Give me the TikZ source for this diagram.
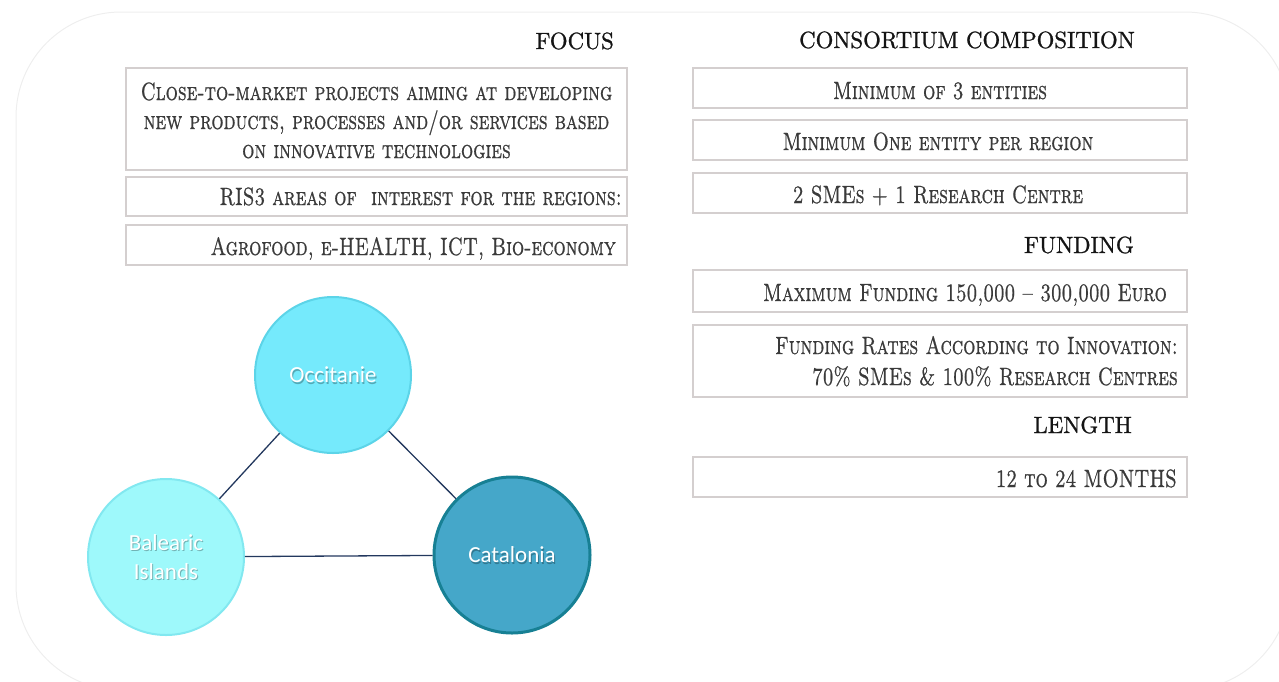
\documentclass[tikz,border=0pt]{standalone}
\usepackage{fontspec}
\newfontfamily\circfont{Carlito}
\newfontfamily\boxfont{lmroman10-regular.otf}[Ligatures=TeX,FakeBold=0.9,SmallCapsFont=lmromancaps10-regular.otf,SmallCapsFeatures={FakeBold=0.9,Ligatures=TeX}]
\newfontfamily\headfont{lmroman10-regular.otf}[Ligatures=TeX,FakeBold=1.0]
\definecolor{boxline}{RGB}{212,207,207}
\definecolor{boxtext}{RGB}{58,58,58}
\definecolor{headtext}{RGB}{20,20,20}
\definecolor{occfill}{RGB}{117,234,252}
\definecolor{occline}{RGB}{92,212,232}
\definecolor{balfill}{RGB}{158,249,251}
\definecolor{balline}{RGB}{130,232,240}
\definecolor{catfill}{RGB}{69,167,201}
\definecolor{catline}{RGB}{23,128,148}
\definecolor{linkc}{RGB}{35,56,94}
\definecolor{framec}{RGB}{238,238,238}
\newcommand\hsc{0.768}
\newcommand\sctxt[2][r]{\scalebox{\hsc}[1]{\begin{tabular}[t]{@{}#1@{}}#2\end{tabular}}}
\newcommand\hdtxt[1]{\scalebox{0.97}[1]{#1}}
\begin{document}
\begin{tikzpicture}[x=1pt,y=-1pt,
 box/.style={draw=boxline,line width=1.6pt,fill=white,inner sep=0pt},
 btext/.style={text=boxtext,font=\boxfont\fontsize{25}{29}\selectfont\scshape,inner sep=0pt},
 head/.style={text=headtext,font=\headfont\fontsize{23.5}{29}\selectfont,inner sep=0pt,anchor=base east},
 region/.style={circle,minimum size=156pt,inner sep=0pt},
 rtext/.style={text=white,font=\circfont\fontsize{23}{29}\selectfont,align=center,inner sep=0pt},
 rshadow/.style={text=black,opacity=0.28,font=\circfont\fontsize{23}{29}\selectfont,align=center,inner sep=0pt},
 link/.style={draw=linkc,line width=1.3pt}]
\useasboundingbox (0,0) rectangle (1279,681);
\draw[draw=framec,line width=1pt,rounded corners=105pt] (16,12) rectangle (1290,690);

% left column
\node[head] (hfocus) at (614,49) {\hdtxt{FOCUS}};
\node[box,minimum width=501pt,minimum height=102pt] (b1) at (376.5,119) {};
\node[btext,anchor=base] (t1) at (376.5,100) {\sctxt[c]{Close-to-market projects aiming at developing\\new products, processes and/or services based\\on innovative technologies}};
\node[box,minimum width=501pt,minimum height=39pt] (b2) at (376.5,196.5) {};
\node[btext,anchor=base east] (t2) at (622,205) {\sctxt{RIS3 areas of\ \ interest for the regions:}};
\node[box,minimum width=501pt,minimum height=40pt] (b3) at (376.5,245) {};
\node[btext,anchor=base east] (t3) at (616,255) {\sctxt{Agrofood, e-HEALTH, ICT, Bio-economy}};

% right column
\node[head] (hcons) at (1135,48) {\hdtxt{CONSORTIUM COMPOSITION}};
\node[box,minimum width=494pt,minimum height=40pt] (bA) at (940,88) {};
\node[btext,anchor=base] (tA) at (940,99) {\sctxt[c]{Minimum of 3 entities}};
\node[box,minimum width=494pt,minimum height=40pt] (bB) at (940,140) {};
\node[btext,anchor=base] (tB) at (938,150) {\sctxt[c]{Minimum One entity per region}};
\node[box,minimum width=494pt,minimum height=40pt] (bC) at (940,193) {};
\node[btext,anchor=base] (tC) at (938,203) {\sctxt[c]{2 SMEs + 1 Research Centre}};

\node[head] (hfund) at (1134,253) {\hdtxt{FUNDING}};
\node[box,minimum width=494pt,minimum height=42pt] (bD) at (940,291) {};
\node[btext,anchor=base east] (tD) at (1167,301) {\sctxt{Maximum Funding 150,000 -- 300,000 Euro}};
\node[box,minimum width=494pt,minimum height=72pt] (bE) at (940,361) {};
\node[btext,anchor=base east] (tE) at (1178,354) {\sctxt{Funding Rates According to Innovation:\\[2pt] 70\% SMEs \& 100\% Research Centres}};

\node[head] (hlen) at (1132,433) {\hdtxt{LENGTH}};
\node[box,minimum width=494pt,minimum height=40pt] (bF) at (940,477) {};
\node[btext,anchor=base east] (tF) at (1177,487) {\sctxt{12 to 24 MONTHS}};

% regions
\node[region,fill=occfill,draw=occline,line width=2pt] (occ) at (333,375) {};
\node[region,fill=balfill,draw=balline,line width=2pt] (bal) at (166,557) {};
\node[region,fill=catfill,draw=catline,line width=3pt] (cat) at (512,555) {};
\draw[link] (occ) -- (bal);
\draw[link] (occ) -- (cat);
\draw[link] (bal) -- (cat);
\node[rshadow] (occs) at ([shift={(1,1.5)}]occ.center) {Occitanie};
\node[rshadow] (bals) at ([shift={(1,1.5)}]bal.center) {Balearic\\Islands};
\node[rshadow] (cats) at ([shift={(1,1.5)}]cat.center) {Catalonia};
\node[rtext] (occt) at (occ.center) {Occitanie};
\node[rtext] (balt) at (bal.center) {Balearic\\Islands};
\node[rtext] (catt) at (cat.center) {Catalonia};
\end{tikzpicture}
\end{document}
